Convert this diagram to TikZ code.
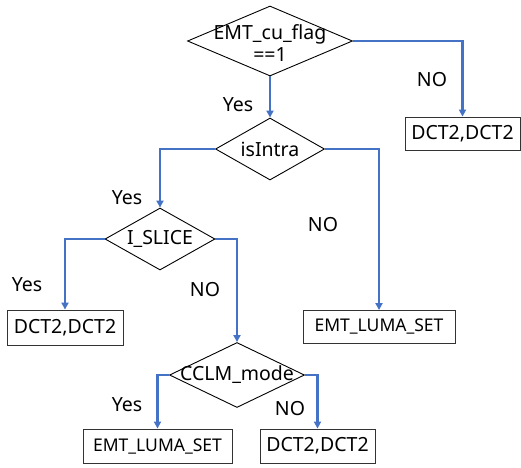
\documentclass[tikz,border=0pt]{standalone}
\usepackage{fontspec}
\setmainfont{Noto Sans}
\usetikzlibrary{shapes.geometric,arrows.meta}
\definecolor{lineblue}{HTML}{4472C4}
\tikzset{
  dia/.style={draw=black, line width=0.9pt, shape=diamond, inner sep=0pt},
  box/.style={draw=black!80, line width=0.9pt, inner sep=0pt, font=\fontsize{19.5}{21}\selectfont},
  smallbox/.style={box, font=\fontsize{17.5}{21}\selectfont},
  txt/.style={font=\fontsize{19.5}{22}\selectfont, align=center, inner sep=0pt},
  conn/.style={draw=lineblue, line width=2.5pt, -{Triangle[length=7pt,width=7pt]}},
}
\begin{document}
\begin{tikzpicture}[x=1pt,y=-1pt]
\useasboundingbox (0,0) rectangle (521,467);
% diamonds
\node[dia, minimum width=165pt, minimum height=70pt] (d1) at (270,41) {};
\node[txt] (t1) at (270,43) {EMT\_cu\_flag\\==1};
\node[dia, minimum width=109pt, minimum height=62pt] (d2) at (270,149) {};
\node[txt] (t2) at (270,149) {isIntra};
\node[dia, minimum width=110pt, minimum height=62pt] (d3) at (160,239) {};
\node[txt] (t3) at (160,239) {I\_SLICE};
\node[dia, minimum width=135pt, minimum height=65pt] (d4) at (237,375) {};
\node[txt] (t4) at (237,375) {CCLM\_mode};
% boxes
\node[box, minimum width=115pt, minimum height=33pt] (b1) at (462.5,133.5) {DCT2,DCT2};
\node[smallbox, minimum width=152pt, minimum height=33pt] (b2) at (379,327) {EMT\_LUMA\_SET};
\node[box, minimum width=116pt, minimum height=35pt] (b3) at (65,327.5) {DCT2,DCT2};
\node[smallbox, minimum width=149pt, minimum height=34pt] (b4) at (157.5,446) {EMT\_LUMA\_SET};
\node[box, minimum width=115pt, minimum height=34pt] (b5) at (317.5,446) {DCT2,DCT2};
% connectors
\draw[conn] (d1.south) -- (d2.north);
\draw[conn] (d1.east) -| (b1.north);
\draw[conn] (d2.east) -| (b2.north);
\draw[conn] (d2.west) -| (d3.north);
\draw[conn] (d3.west) -| (b3.north);
\draw[conn] (d3.east) -| (d4.north);
\draw[conn] (d4.west) -| (b4.north);
\draw[conn] (d4.east) -| (b5.north);
% labels
\node[txt] (l1) at (238,105) {Yes};
\node[txt] (l2) at (432,80) {NO};
\node[txt] (l3) at (323,225) {NO};
\node[txt] (l4) at (127,198) {Yes};
\node[txt] (l5) at (27,285) {Yes};
\node[txt] (l6) at (205,290) {NO};
\node[txt] (l7) at (127,405) {Yes};
\node[txt] (l8) at (290,409) {NO};
\end{tikzpicture}
\end{document}
